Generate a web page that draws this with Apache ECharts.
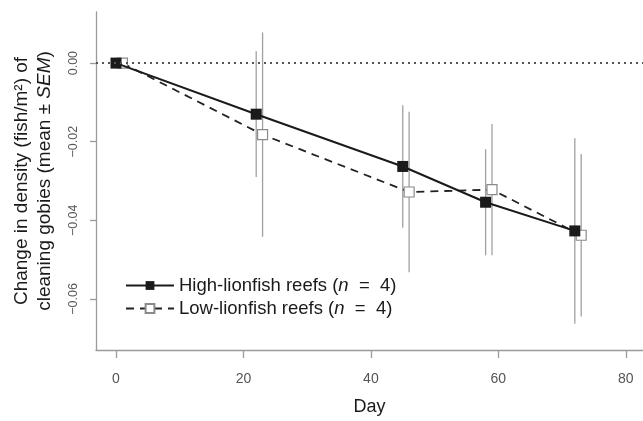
<!DOCTYPE html>
<html>
<head>
<meta charset="utf-8">
<script src="https://cdn.jsdelivr.net/npm/echarts@6/dist/echarts.min.js"></script>
<style>
html,body{margin:0;padding:0;background:#fff;}
#chart{width:643px;height:421px;}
</style>
</head>
<body>
<div id="chart"></div>
<script>
// Data
const highDays = [0, 22, 45, 58, 72];
const highMean = [0, -0.013, -0.0263, -0.0354, -0.0427];
const highSem  = [0, 0.016, 0.0156, 0.0135, 0.0236];
const lowDays  = [1, 23, 46, 59, 73];
const lowMean  = [0, -0.0182, -0.0328, -0.0322, -0.0438];
const lowSem   = [0, 0.026, 0.0204, 0.0167, 0.0207];
const xTicks = [0, 20, 40, 60, 80];
const yTicks = [-0.06, -0.04, -0.02, 0];
const highName = 'High-lionfish reefs';
const lowName = 'Low-lionfish reefs';

const highPts = highDays.map((d, i) => [d, highMean[i]]);
const lowPts = lowDays.map((d, i) => [d, lowMean[i]]);
const errData = highDays.map((d, i) => [d, highMean[i] - highSem[i], highMean[i] + highSem[i]])
  .concat(lowDays.map((d, i) => [d, lowMean[i] - lowSem[i], lowMean[i] + lowSem[i]]));

const FONT = 'Liberation Sans, Arial, sans-serif';
const chart = echarts.init(document.getElementById('chart'), null, {renderer: 'canvas'});
chart.setOption({
  animation: false,
  backgroundColor: '#fff',
  textStyle: {fontFamily: FONT},
  grid: {left: 96, top: 12, right: 0, bottom: 65},
  legend: {
    left: 120, top: 271, orient: 'vertical', itemGap: 4,
    itemWidth: 48, itemHeight: 11,
    data: [highName, lowName],
    formatter: function (name) {
      return '{a|' + name + ' (}{i|n}{a|  =  4)}';
    },
    textStyle: {
      fontSize: 18.5, color: '#1a1a1a', fontFamily: FONT,
      rich: {
        a: {fontSize: 18.5, color: '#1a1a1a', fontFamily: FONT},
        i: {fontSize: 18.5, color: '#1a1a1a', fontFamily: FONT, fontStyle: 'italic'}
      }
    }
  },
  xAxis: {
    type: 'value', min: -3.14, max: 82.7,
    name: 'Day', nameLocation: 'middle', nameGap: 48,
    nameTextStyle: {fontSize: 18, color: '#1a1a1a', fontFamily: FONT},
    axisLine: {show: true, onZero: false, lineStyle: {color: '#9a9a9a', width: 1.3}},
    axisTick: {show: true, length: 8, customValues: xTicks, lineStyle: {color: '#9a9a9a', width: 1.3}},
    axisLabel: {customValues: xTicks, margin: 22, fontSize: 14, color: '#555', fontFamily: FONT},
    splitLine: {show: false}
  },
  yAxis: {
    type: 'value', min: -0.073, max: 0.013,
    name: 'Change in density (fish/m²) of\ncleaning gobies (mean ± {i|SEM})',
    nameLocation: 'middle', nameGap: 40, nameRotate: 90,
    nameTextStyle: {
      fontSize: 19, color: '#1a1a1a', fontFamily: FONT, lineHeight: 23,
      rich: {i: {fontSize: 19, color: '#1a1a1a', fontStyle: 'italic', fontFamily: FONT}}
    },
    axisLine: {show: true, onZero: false, lineStyle: {color: '#9a9a9a', width: 1.3}},
    axisTick: {show: true, length: 6, customValues: yTicks, lineStyle: {color: '#9a9a9a', width: 1.3}},
    axisLabel: {
      customValues: yTicks, rotate: 90, margin: 16, fontSize: 12.5, color: '#555', fontFamily: FONT,
      formatter: v => (v < 0 ? '\u2212' : '') + Math.abs(v).toFixed(2)
    },
    splitLine: {show: false}
  },
  series: [
    {
      type: 'custom', name: 'err', z: 1, silent: true,
      data: errData,
      renderItem: function (params, api) {
        const x = api.value(0);
        const lo = api.coord([x, api.value(1)]);
        const hi = api.coord([x, api.value(2)]);
        return {
          type: 'line',
          shape: {x1: lo[0], y1: lo[1], x2: hi[0], y2: hi[1]},
          style: {stroke: '#a0a0a0', lineWidth: 1.3}
        };
      }
    },
    {
      type: 'line', name: lowName, z: 3, data: lowPts,
      symbol: 'rect', symbolSize: 10, showAllSymbol: true,
      lineStyle: {color: '#222', width: 1.8, type: [8, 6]},
      itemStyle: {color: '#fff', borderColor: '#8a8a8a', borderWidth: 1.2},
      emphasis: {disabled: true}
    },
    {
      type: 'line', name: highName, z: 4, data: highPts,
      symbol: 'rect', symbolSize: 11, showAllSymbol: true,
      lineStyle: {color: '#1a1a1a', width: 2},
      itemStyle: {color: '#1a1a1a', borderColor: '#1a1a1a', borderWidth: 0},
      emphasis: {disabled: true},
      markLine: {
        silent: true, symbol: 'none', label: {show: false},
        lineStyle: {color: '#555', type: [2, 4], width: 2},
        data: [{yAxis: 0}]
      }
    }
  ]
});
</script>
</body>
</html>
